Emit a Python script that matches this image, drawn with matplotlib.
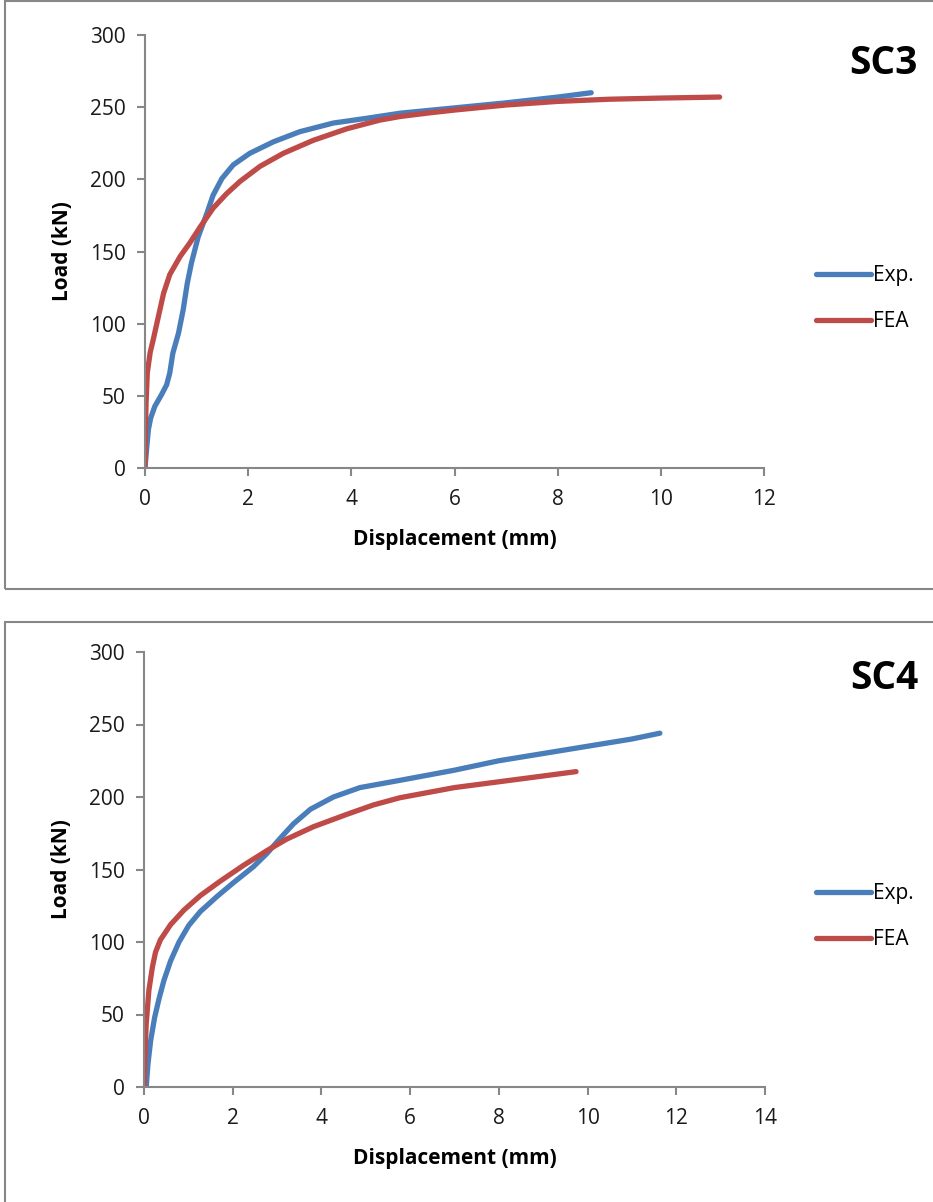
import matplotlib
matplotlib.use("Agg")
import matplotlib.pyplot as plt
from matplotlib.patches import Rectangle

plt.rcParams['font.family'] = ['Open Sans', 'DejaVu Sans']

# SC3 load-displacement curves
sc3_exp_disp = [0.0, 0.03, 0.065, 0.11, 0.19, 0.32, 0.42, 0.48, 0.54, 0.65, 0.74, 0.82,
                0.9, 1.03, 1.2, 1.32, 1.49, 1.71, 2.03, 2.49, 3.0, 3.65, 4.3, 4.94,
                6.0, 7.0, 8.0, 8.65]
sc3_exp_load = [0, 12.7, 26.5, 34.6, 42.7, 50.8, 57.7, 65.8, 79.6, 93.5, 109.6, 128,
                142, 160, 176.5, 189, 200.5, 210, 218, 226, 233, 239, 242.3, 245.8,
                249.5, 253, 257, 260]
sc3_fea_disp = [0.0, 0.006, 0.02, 0.045, 0.1, 0.16, 0.26, 0.36, 0.48, 0.68, 0.87, 1.07,
                1.32, 1.58, 1.84, 2.23, 2.68, 3.26, 3.91, 4.55, 4.94, 5.5, 6.0, 7.0,
                8.0, 9.0, 10.0, 11.14]
sc3_fea_load = [0, 22, 45, 66, 80, 89, 105, 121, 134, 146.5, 156, 167,
                180, 190, 198.5, 209, 218, 227, 235, 241, 243.5, 246, 248, 251.5,
                254, 255.5, 256.3, 257]

# SC4 load-displacement curves
sc4_exp_disp = [0.05, 0.09, 0.15, 0.24, 0.34, 0.45, 0.6, 0.79, 1.01, 1.27, 1.65, 2.02,
                2.47, 2.77, 3.07, 3.37, 3.75, 4.27, 4.87, 5.77, 7.0, 8.0, 9.0, 10.0,
                11.0, 11.63]
sc4_exp_load = [0, 16, 32, 48, 61, 73.6, 87, 100, 111.5, 121, 131.5, 141,
                152, 161, 171.5, 181.5, 191.5, 200, 206.5, 211.5, 218.5, 225, 230, 235,
                240, 244]
sc4_fea_disp = [0.0, 0.02, 0.05, 0.11, 0.19, 0.26, 0.37, 0.6, 0.9, 1.27, 1.72, 2.25,
                2.77, 3.22, 3.82, 4.57, 5.17, 5.77, 7.0, 8.0, 9.0, 9.74]
sc4_fea_load = [0, 20.7, 43.7, 66.7, 82.8, 93, 101.5, 112, 122, 132, 142, 153,
                163, 171, 179.5, 188, 194.5, 199.5, 206.5, 210.5, 214.5, 217.5]

panels = [
    ("SC3", sc3_exp_disp, sc3_exp_load, sc3_fea_disp, sc3_fea_load, 12),
    ("SC4", sc4_exp_disp, sc4_exp_load, sc4_fea_disp, sc4_fea_load, 14),
]

W, H = 933, 1202
fig = plt.figure(figsize=(W / 100, H / 100), dpi=100)

BLUE = "#4A7EBB"
RED = "#BE4B48"
GRAY = "#878787"

# panel frames (pixel rectangles: x0, y0_top, x1, y1_bottom)
frames = [(5, 1, 940, 589), (5, 622, 940, 1210)]
for x0, y0, x1, y1 in frames:
    fig.patches.append(Rectangle((x0 / W, 1 - y1 / H), (x1 - x0) / W, (y1 - y0) / H,
                                 transform=fig.transFigure, fill=False,
                                 edgecolor=GRAY, linewidth=1.5, clip_on=False))

# axes placements in pixels: left, right, top, bottom
ax_px = [(145, 764, 35, 468), (144, 765, 652, 1087)]
legend_y = [257, 875]
title_y = [63, 678]

for (name, ed, el, fd, fl, xmax), (l, r, t, b), ly, ty in zip(panels, ax_px, legend_y, title_y):
    ax = fig.add_axes([l / W, 1 - b / H, (r - l) / W, (b - t) / H])
    ax.plot(ed, el, color=BLUE, lw=3.8, solid_capstyle='round',
            solid_joinstyle='round', label="Exp.")
    ax.plot(fd, fl, color=RED, lw=3.8, solid_capstyle='round',
            solid_joinstyle='round', label="FEA")
    ax.set_xlim(0, xmax)
    ax.set_ylim(0, 300)
    ax.set_xticks(range(0, xmax + 1, 2))
    ax.set_yticks(range(0, 301, 50))
    for s in ("top", "right"):
        ax.spines[s].set_visible(False)
    for s in ("left", "bottom"):
        ax.spines[s].set_color(GRAY)
        ax.spines[s].set_linewidth(1.5)
    ax.tick_params(direction='out', length=6, width=1.5, color=GRAY,
                   labelsize=15, labelcolor="#1a1a1a")
    ax.tick_params(axis='x', pad=9)
    ax.tick_params(axis='y', pad=8)
    ax.set_xlabel("Displacement (mm)", fontsize=15, fontweight='bold', labelpad=14)
    ax.set_ylabel("Load (kN)", fontsize=15, fontweight='bold', labelpad=12)
    ax.patch.set_alpha(0)
    fig.text(918 / W, 1 - ty / H, name, fontsize=28, fontweight='bold',
             ha='right', va='center')
    ax.legend(loc='upper left', bbox_to_anchor=(808 / W, 1 - ly / H),
              bbox_transform=fig.transFigure, frameon=False, fontsize=15,
              handlelength=2.6, handletextpad=0.1, labelspacing=1.2,
              borderaxespad=0)

fig.savefig("out.png", dpi=100, facecolor="white")
